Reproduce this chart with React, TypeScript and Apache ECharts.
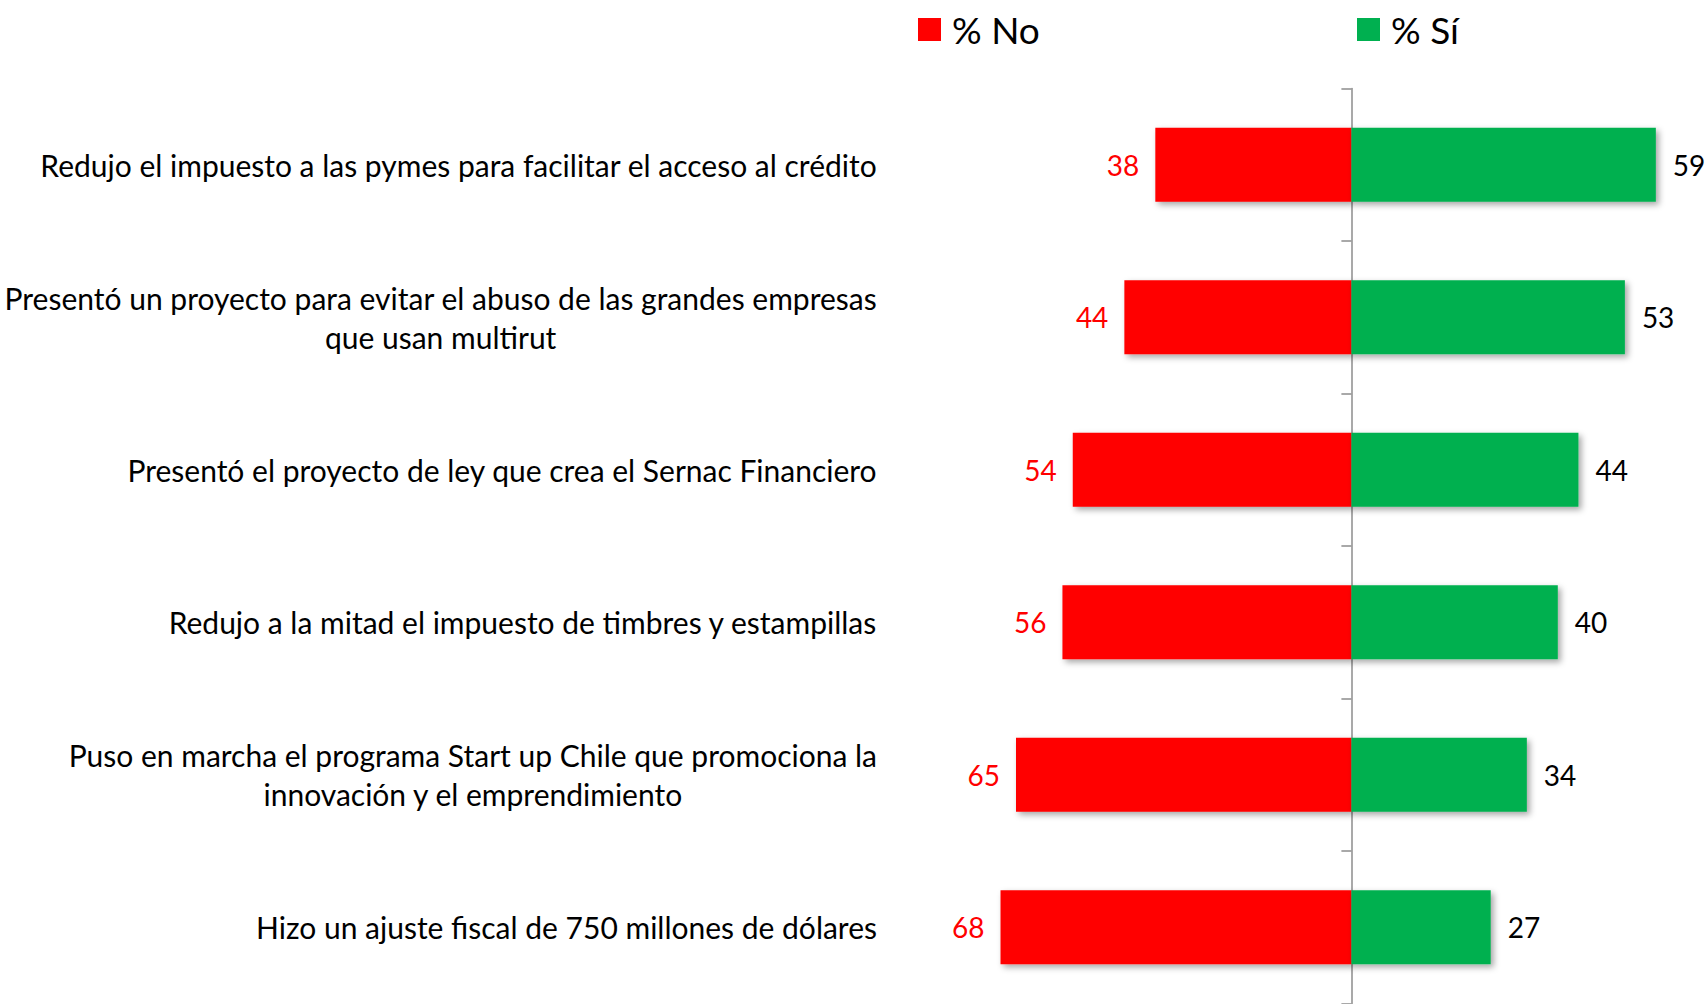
import React, { useEffect, useRef } from "react";
import * as echarts from "echarts";

const categories = [
  "Redujo el impuesto a las pymes para facilitar el acceso al crédito",
  "Presentó un proyecto para evitar el abuso de las grandes empresas\nque usan multirut",
  "Presentó el proyecto de ley que crea el Sernac Financiero",
  "Redujo a la mitad el impuesto de timbres y estampillas",
  "Puso en marcha el programa Start up Chile que promociona la\ninnovación y el emprendimiento",
  "Hizo un ajuste fiscal de 750 millones de dólares",
];
const noValues = [38, 44, 54, 56, 65, 68];
const siValues = [59, 53, 44, 40, 34, 27];
const seriesNames = ["% No", "% Sí"];

const FONT = "Lato";

export default function App() {
  const ref = useRef<HTMLDivElement>(null);
  useEffect(() => {
    if (!ref.current) return;
    const chart = echarts.init(ref.current, null, { renderer: "svg" });
    const shadow = {
      shadowBlur: 6,
      shadowColor: "rgba(0,0,0,0.35)",
      shadowOffsetX: 3,
      shadowOffsetY: 3,
    };
    const legendBase = {
      top: 11,
      padding: 0,
      itemWidth: 23,
      itemHeight: 23,
      icon: "rect",
      textStyle: { fontSize: 37, color: "#000", fontFamily: FONT, padding: [0, 0, 0, 6] },
    };
    chart.setOption({
      animation: false,
      backgroundColor: "#ffffff",
      textStyle: { fontFamily: FONT },
      legend: [
        { ...legendBase, data: [seriesNames[0]], left: 918 },
        { ...legendBase, data: [seriesNames[1]], left: 1357 },
      ],
      grid: {
        left: 887,
        right: 46,
        top: 88.5,
        bottom: 0.5,
        containLabel: false,
        outerBoundsMode: "none",
      },
      xAxis: {
        type: "value",
        min: -90,
        max: 60,
        show: false,
        splitLine: { show: false },
      },
      yAxis: {
        type: "category",
        inverse: true,
        data: categories,
        axisLine: { show: true, onZero: true, lineStyle: { color: "#8c8c8c", width: 1.5 } },
        axisTick: { show: true, length: 10, lineStyle: { color: "#8c8c8c", width: 1.5 } },
        axisLabel: {
          margin: 10,
          align: "right",
          formatter: (v: string) => v.split("\n").map((l) => `{c|${l}}`).join("\n"),
          rich: {
            c: { align: "center", fontSize: 30, fontFamily: FONT, color: "#000", lineHeight: 39 },
          },
        },
      },
      series: [
        {
          name: seriesNames[0],
          type: "bar",
          stack: "total",
          barWidth: "48.5%",
          data: noValues.map((v) => -v),
          itemStyle: { color: "#FF0000", ...shadow },
          label: {
            show: true,
            position: "left",
            distance: 16,
            color: "#FF0000",
            fontSize: 28,
            fontFamily: FONT,
            formatter: (p: any) => String(Math.abs(p.value)),
          },
        },
        {
          name: seriesNames[1],
          type: "bar",
          stack: "total",
          barWidth: "48.5%",
          data: siValues,
          itemStyle: { color: "#00B050", ...shadow },
          label: {
            show: true,
            position: "right",
            distance: 17,
            color: "#000",
            fontSize: 28,
            fontFamily: FONT,
          },
        },
      ],
    });
    return () => chart.dispose();
  }, []);
  return (
    <div
      ref={ref}
      style={{ position: "fixed", left: 0, top: 0, width: 1707, height: 1004, background: "#fff" }}
    />
  );
}
